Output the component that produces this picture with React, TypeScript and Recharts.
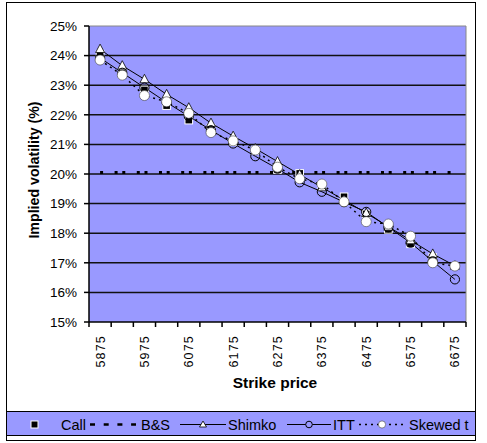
import React from 'react';
import { ComposedChart, Line, XAxis, YAxis, CartesianGrid, ReferenceLine, Legend } from 'recharts';

const strikes = [5875, 5925, 5975, 6025, 6075, 6125, 6175, 6225, 6275, 6325, 6375, 6425, 6475, 6525, 6575, 6625, 6675];
const callVol = [24.05, 23.4, 22.84, 22.31, 21.82, 21.55, 21.09, 20.8, 20.15, 20.02, 19.6, 19.23, 18.65, 18.13, 17.64, 17.18, null];
const bsVol = [20.05, 20.05, 20.05, 20.05, 20.05, 20.05, 20.05, 20.05, 20.05, 20.05, 20.05, 20.05, 20.05, 20.05, 20.05, 20.05, 20.05];
const shimkoVol = [24.22, 23.66, 23.2, 22.69, 22.24, 21.72, 21.28, 20.86, 20.42, 19.98, 19.55, 19.12, 18.68, 18.22, 17.76, 17.3, 16.9];
const ittVol = [23.92, 23.42, 22.92, 22.42, 21.95, 21.48, 21.03, 20.6, 20.18, 19.72, 19.4, 19.05, 18.72, 18.2, 17.68, 17.05, 16.44];
const skewVol = [23.85, 23.34, 22.65, 22.44, 22.05, 21.4, 21.12, 20.81, 20.23, 19.84, 19.66, 19.06, 18.39, 18.31, 17.9, 17.0, 16.89];
const xTickLabels = [5875, 5975, 6075, 6175, 6275, 6375, 6475, 6575, 6675];
const yTicks = [15, 16, 17, 18, 19, 20, 21, 22, 23, 24, 25];
const seriesNames = ['Call', 'B&S', 'Shimko', 'ITT', 'Skewed t'];

const data = strikes.map((s, i) => ({
  strike: s,
  call: callVol[i],
  bs: bsVol[i],
  shimko: shimkoVol[i],
  itt: ittVol[i],
  skew: skewVol[i],
}));

const halfStep = (strikes[1] - strikes[0]) / 2;
const boundaries = [...strikes.map((s) => s - halfStep), strikes[strikes.length - 1] + halfStep];
const xDomain = [boundaries[0], boundaries[boundaries.length - 1]];
const xTicks = [...boundaries, ...xTickLabels].sort((a, b) => a - b);

const FONT = '"Liberation Sans", Arial, sans-serif';

const XTick = (props: any) => {
  const { x, y, payload } = props;
  const v = payload.value;
  if (xTickLabels.includes(v)) {
    return (
      <text
        transform={`translate(${x + 4.5},${y + 13}) rotate(-90)`}
        textAnchor="end"
        fontSize={12.5}
        fontFamily={FONT}
        letterSpacing={1.2}
        fill="#000"
      >
        {v}
      </text>
    );
  }
  return <line x1={x} x2={x} y1={y} y2={y + 5} stroke="#000" strokeWidth={1.5} />;
};

const SquareDot = (props: any) => {
  const { cx, cy, value } = props;
  if (value == null || cx == null || cy == null) return null;
  return <rect x={cx - 3.8} y={cy - 3.8} width={7.6} height={7.6} fill="#000" stroke="#fff" strokeWidth={1} />;
};

const TriangleDot = (props: any) => {
  const { cx, cy } = props;
  if (cx == null || cy == null) return null;
  return (
    <polygon
      points={`${cx},${cy - 5} ${cx - 4.5},${cy + 3.5} ${cx + 4.5},${cy + 3.5}`}
      fill="#fff"
      stroke="#000"
      strokeWidth={0.8}
    />
  );
};

const HollowDot = (props: any) => {
  const { cx, cy } = props;
  if (cx == null || cy == null) return null;
  return <circle cx={cx} cy={cy} r={4.6} fill="none" stroke="#000" strokeWidth={1} />;
};

const WhiteDot = (props: any) => {
  const { cx, cy } = props;
  if (cx == null || cy == null) return null;
  return <circle cx={cx} cy={cy} r={5} fill="#fff" stroke="#444" strokeWidth={0.6} />;
};

const LegendContent = () => {
  const ty = 17.5;
  const my = 12.5;
  const textProps = { fontSize: 14.5, fontFamily: FONT, fill: '#000' };
  return (
    <svg width={468} height={23} style={{ display: 'block' }}>
      <rect x={24} y={my - 3.5} width={7} height={7} fill="#000" stroke="#fff" strokeWidth={1} />
      <text x={54} y={ty} {...textProps}>{seriesNames[0]}</text>
      <line x1={83} x2={129} y1={my} y2={my} stroke="#000" strokeWidth={2.5} strokeDasharray="5 8.7" />
      <text x={134} y={ty} {...textProps}>{seriesNames[1]}</text>
      <line x1={173} x2={219} y1={my} y2={my} stroke="#000" strokeWidth={1} />
      <polygon points={`196,${my - 3.5} 192.5,${my + 2.5} 199.5,${my + 2.5}`} fill="#fff" stroke="#000" strokeWidth={0.8} />
      <text x={221} y={ty} {...textProps}>{seriesNames[2]}</text>
      <line x1={280} x2={324} y1={my} y2={my} stroke="#000" strokeWidth={1} />
      <circle cx={302} cy={my} r={3.3} fill="#9999FF" stroke="#000" strokeWidth={1} />
      <text x={326} y={ty} {...textProps}>{seriesNames[3]}</text>
      <line x1={352} x2={399} y1={my} y2={my} stroke="#000" strokeWidth={1.5} strokeDasharray="2 4" />
      <circle cx={375} cy={my} r={3.6} fill="#fff" stroke="#444" strokeWidth={0.6} />
      <text x={402} y={ty} {...textProps}>{seriesNames[4]}</text>
    </svg>
  );
};

export default function App() {
  return (
    <div style={{ position: 'absolute', left: 0, top: 0, width: 487, height: 443, background: '#fff' }}>
      <div
        style={{
          position: 'absolute',
          left: 6,
          top: 2,
          width: 470,
          height: 439,
          boxSizing: 'border-box',
          border: '1px solid #000',
        }}
      />
      <div style={{ position: 'absolute', left: 0, top: 0 }}>
        <ComposedChart
          width={487}
          height={443}
          data={data}
          margin={{ top: 26, right: 21, left: 39, bottom: 61 }}
        >
          <CartesianGrid
            vertical={false}
            horizontalValues={[16, 17, 18, 19, 20, 21, 22, 23, 24]}
            stroke="#111"
            strokeWidth={1.5}
            fill="#9999FF"
            fillOpacity={1}
          />
          <ReferenceLine y={25} stroke="#888" strokeWidth={1} />
          <ReferenceLine x={xDomain[1]} stroke="#888" strokeWidth={1} />
          <XAxis
            dataKey="strike"
            type="number"
            domain={xDomain}
            ticks={xTicks}
            interval={0}
            allowDataOverflow
            height={60}
            tickSize={0}
            tickMargin={0}
            tickLine={false}
            axisLine={{ stroke: '#000', strokeWidth: 1.5 }}
            tick={<XTick />}
          />
          <YAxis
            type="number"
            domain={[15, 25]}
            ticks={yTicks}
            interval={0}
            width={50}
            tickSize={5}
            tickMargin={7}
            tickFormatter={(v: number) => `${v}%`}
            tick={{ fill: '#000', fontSize: 13.5, fontFamily: FONT }}
            tickLine={{ stroke: '#000', strokeWidth: 1.5 }}
            axisLine={{ stroke: '#000', strokeWidth: 1.5 }}
          />
          <Line dataKey="call" name="Call" stroke="none" dot={<SquareDot />} activeDot={false} isAnimationActive={false} />
          <Line
            dataKey="bs"
            name="B&S"
            stroke="#000"
            strokeWidth={3}
            strokeDasharray="3 11.5 3 4.7"
            dot={false}
            activeDot={false}
            isAnimationActive={false}
          />
          <Line dataKey="shimko" name="Shimko" stroke="#000" strokeWidth={1} dot={<TriangleDot />} activeDot={false} isAnimationActive={false} />
          <Line dataKey="itt" name="ITT" stroke="#000" strokeWidth={1} dot={<HollowDot />} activeDot={false} isAnimationActive={false} />
          <Line
            dataKey="skew"
            name="Skewed t"
            stroke="#000"
            strokeWidth={1.5}
            strokeDasharray="2 4"
            dot={<WhiteDot />}
            activeDot={false}
            isAnimationActive={false}
          />
          <Legend
            verticalAlign="middle"
            align="center"
            layout="horizontal"
            content={<LegendContent />}
            wrapperStyle={{
              position: 'absolute',
              left: 6,
              top: 411,
              width: 470,
              height: 25,
              boxSizing: 'border-box',
              border: '1px solid #000',
              background: '#9999FF',
              margin: 0,
              padding: 0,
            }}
          />
        </ComposedChart>
      </div>
      <div
        style={{
          position: 'absolute',
          left: 34,
          top: 170,
          transform: 'translate(-50%, -50%) rotate(-90deg)',
          whiteSpace: 'nowrap',
          fontFamily: FONT,
          fontWeight: 'bold',
          fontSize: 14.2,
          color: '#000',
        }}
      >
        Implied volatility (%)
      </div>
      <div
        style={{
          position: 'absolute',
          left: 275,
          top: 383,
          transform: 'translate(-50%, -50%)',
          whiteSpace: 'nowrap',
          fontFamily: FONT,
          fontWeight: 'bold',
          fontSize: 15.5,
          color: '#000',
        }}
      >
        Strike price
      </div>
    </div>
  );
}
